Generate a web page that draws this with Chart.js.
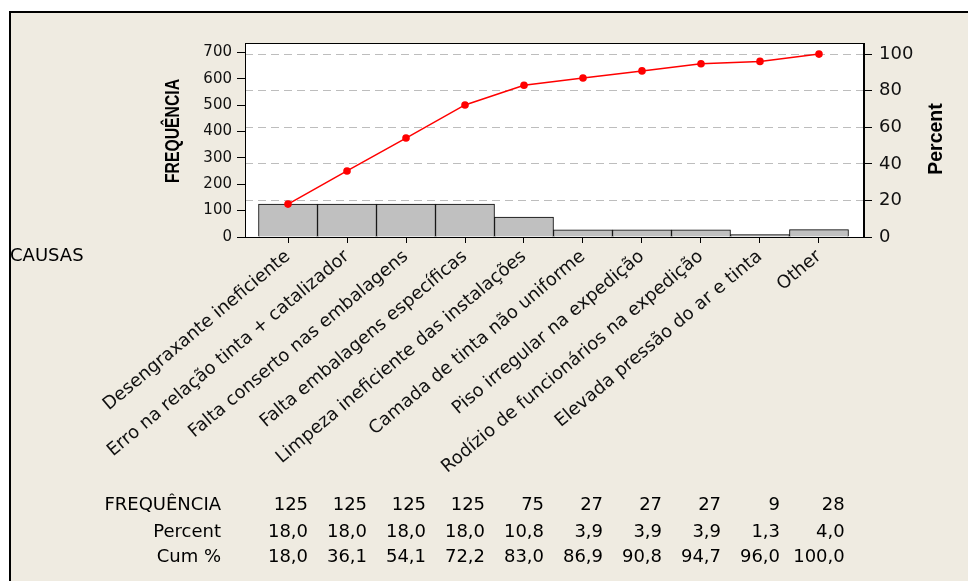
<!DOCTYPE html>
<html>
<head>
<meta charset="utf-8">
<script src="https://cdn.jsdelivr.net/npm/chart.js@4.4.1/dist/chart.umd.min.js"></script>
<style>
  html, body { margin: 0; padding: 0; background: #fff; }
  canvas { display: block; }
</style>
</head>
<body>
<canvas id="pareto" width="968" height="581"></canvas>
<script>
// dados do diagrama de Pareto
const causas = [
  'Desengraxante ineficiente',
  'Erro na relação tinta + catalizador',
  'Falta conserto nas embalagens',
  'Falta embalagens específicas',
  'Limpeza ineficiente das instalações',
  'Camada de tinta não uniforme',
  'Piso irregular na expedição',
  'Rodízio de funcionários na expedição',
  'Elevada pressão do ar e tinta',
  'Other'
];
const frequencia = [125, 125, 125, 125, 75, 27, 27, 27, 9, 28];
const percent = [18.0, 18.0, 18.0, 18.0, 10.8, 3.9, 3.9, 3.9, 1.3, 4.0];
const cumPercent = [18.0, 36.1, 54.1, 72.2, 83.0, 86.9, 90.8, 94.7, 96.0, 100.0];
const freqTicks = [0, 100, 200, 300, 400, 500, 600, 700];
const pctTicks = [0, 20, 40, 60, 80, 100];

const total = frequencia.reduce((a, b) => a + b, 0);
const freqMax = 735;
const pctMax = freqMax / total * 100;

const BG = '#EFEBE1';
const FONT = '"DejaVu Sans", Verdana, sans-serif';
const fmt = v => v.toFixed(1).replace('.', ',');

// fundo, moldura e textos fora do gráfico
const extras = {
  id: 'extras',
  beforeDraw(chart) {
    const { ctx, width, height, chartArea: a } = chart;
    ctx.save();
    ctx.fillStyle = '#fff';
    ctx.fillRect(0, 0, width, height);
    ctx.fillStyle = BG;
    ctx.fillRect(9, 11, width - 9, height - 11);
    ctx.fillStyle = '#000';
    ctx.fillRect(9, 11, width - 9, 2);
    ctx.fillRect(9, 11, 2, height - 11);
    ctx.fillStyle = '#fff';
    ctx.fillRect(a.left, a.top, a.right - a.left, a.bottom - a.top);
    ctx.restore();
  },
  afterDraw(chart) {
    const { ctx, chartArea: a } = chart;
    const x = chart.scales.x;
    ctx.save();
    ctx.strokeStyle = '#000';
    ctx.lineWidth = 1;
    ctx.strokeRect(a.left + 0.5, a.top + 0.5, a.right - a.left - 1, a.bottom - a.top);

    ctx.fillStyle = '#000';
    ctx.textBaseline = 'alphabetic';

    // títulos dos eixos (o da esquerda é comprimido como no original)
    ctx.save();
    ctx.translate(179, 131);
    ctx.rotate(-Math.PI / 2);
    ctx.textAlign = 'center';
    ctx.font = 'bold 19.5px "Liberation Sans", Arial, sans-serif';
    const tw = ctx.measureText('FREQUÊNCIA').width;
    ctx.scale(104 / tw, 1);
    ctx.fillText('FREQUÊNCIA', 0, 0);
    ctx.restore();

    ctx.save();
    ctx.translate(942, 139);
    ctx.rotate(-Math.PI / 2);
    ctx.textAlign = 'center';
    ctx.font = 'bold 19.5px "Liberation Sans", Arial, sans-serif';
    ctx.fillText('Percent', 0, 0);
    ctx.restore();

    ctx.font = '18px ' + FONT;
    ctx.textAlign = 'left';
    ctx.fillText('CAUSAS', 10, 261);

    // tabela abaixo do gráfico
    const rows = [
      ['FREQUÊNCIA', frequencia.map(String), 510],
      ['Percent', percent.map(fmt), 536.7],
      ['Cum %', cumPercent.map(fmt), 562.3]
    ];
    ctx.textAlign = 'right';
    rows.forEach(([label, vals, y]) => ctx.fillText(label, 221, y));
    causas.forEach((c, i) => {
      const w = Math.max(...rows.map(r => ctx.measureText(r[1][i]).width));
      const right = x.getPixelForValue(i) + w / 2;
      rows.forEach(([label, vals, y]) => ctx.fillText(vals[i], right, y));
    });
    ctx.restore();
  }
};

const ctx = document.getElementById('pareto').getContext('2d');
new Chart(ctx, {
  data: {
    datasets: [
      {
        type: 'line',
        label: 'Cum %',
        data: cumPercent.map((v, i) => ({ x: i, y: v })),
        yAxisID: 'y1',
        borderColor: '#FF0000',
        backgroundColor: '#FF0000',
        borderWidth: 1.5,
        pointRadius: 3.8,
        pointBorderWidth: 0,
        order: 0
      },
      {
        type: 'bar',
        label: 'FREQUÊNCIA',
        data: frequencia.map((v, i) => ({ x: i, y: v })),
        yAxisID: 'y',
        backgroundColor: '#C0C0C0',
        borderColor: '#000',
        borderWidth: 1,
        barPercentage: 1,
        categoryPercentage: 1,
        order: 1
      }
    ]
  },
  options: {
    responsive: false,
    animation: false,
    events: [],
    layout: { padding: { top: 43, left: 0, right: 0, bottom: 0 } },
    plugins: {
      legend: { display: false },
      tooltip: { enabled: false }
    },
    scales: {
      x: {
        type: 'linear',
        offset: false,
        min: -0.729,
        max: 9.763,
        afterBuildTicks: s => { s.ticks = causas.map((c, i) => ({ value: i })); },
        afterFit: s => { s.height = 344; },
        ticks: {
          autoSkip: false,
          minRotation: 40,
          maxRotation: 40,
          padding: 3,
          color: '#111',
          font: { family: FONT, size: 18 },
          callback: v => causas[v]
        },
        grid: { offset: false, drawOnChartArea: false, tickLength: 6, tickColor: '#000', color: '#000' },
        border: { color: '#000' }
      },
      y: {
        position: 'left',
        min: 0,
        max: freqMax,
        afterBuildTicks: s => { s.ticks = freqTicks.map(v => ({ value: v })); },
        afterFit: s => { s.width = 245; },
        ticks: { padding: 5, color: '#111', font: { family: FONT, size: 15 } },
        grid: { drawOnChartArea: false, tickLength: 8, tickColor: '#000', color: '#000' },
        border: { color: '#000' }
      },
      y1: {
        position: 'right',
        min: 0,
        max: pctMax,
        afterBuildTicks: s => { s.ticks = pctTicks.map(v => ({ value: v })); },
        afterFit: s => { s.width = 104; },
        ticks: { padding: 7, color: '#111', font: { family: FONT, size: 18 } },
        grid: {
          drawOnChartArea: true,
          color: c => (c.tick && c.tick.value === 0 ? 'rgba(0,0,0,0)' : '#BDBDBD'),
          tickLength: 8,
          tickColor: '#000',
          tickBorderDash: []
        },
        border: { color: '#000', dash: [8, 5] }
      }
    }
  },
  plugins: [extras]
});
</script>
</body>
</html>
